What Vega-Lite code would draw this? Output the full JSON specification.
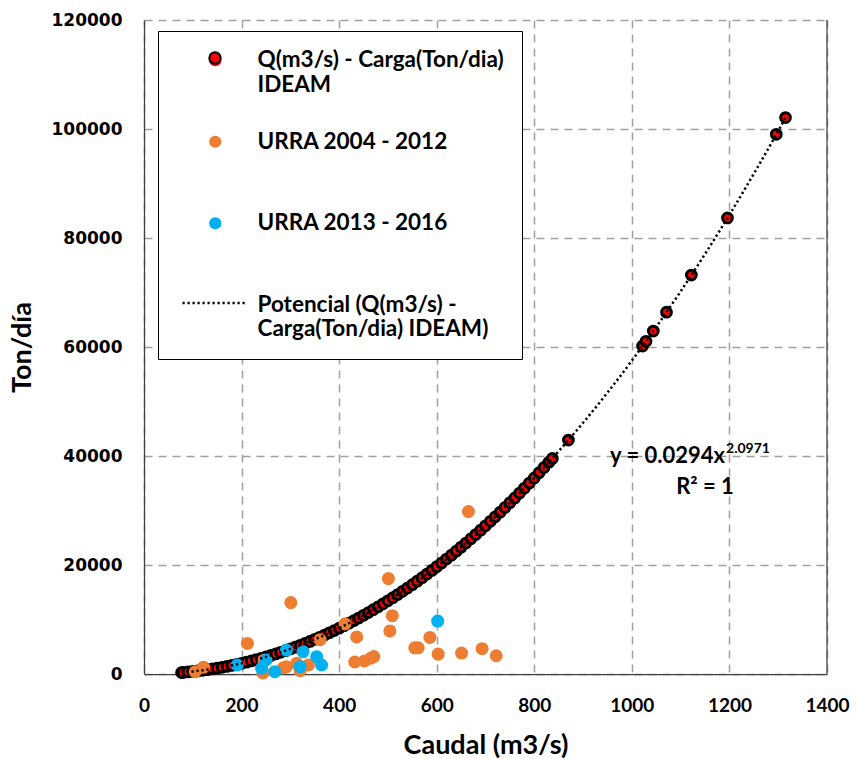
{
  "$schema": "https://vega.github.io/schema/vega-lite/v6.json",
  "width": 683,
  "height": 654,
  "autosize": {"type": "none"},
  "padding": {"left": 144, "top": 20, "right": 29, "bottom": 85},
  "background": "white",
  "config": {
    "view": {"stroke": null},
    "axis": {
      "grid": true, "gridColor": "#A0A0A0", "gridDash": [8, 6], "gridWidth": 1.5,
      "ticks": false, "tickSize": 0,
      "domainColor": "#404040", "domainWidth": 1.25,
      "labelColor": "#000000", "labelFontWeight": "bold",
      "labelFlush": false, "labelOverlap": false,
      "titleColor": "#000000", "titleFont": "Lato", "titleFontWeight": "bold", "titleFontSize": 27
    },
    "legend": {
      "labelFont": "Lato", "labelFontWeight": "bold", "labelColor": "#000000",
      "labelBaseline": "middle", "symbolOpacity": 1, "labelLimit": 500
    }
  },
  "datasets": {
    "ideam": [
      {"q": 77, "t": 266, "series": "IDEAM"}, {"q": 80, "t": 288, "series": "IDEAM"}, {"q": 90, "t": 368, "series": "IDEAM"},
      {"q": 100, "t": 460, "series": "IDEAM"}, {"q": 110, "t": 561, "series": "IDEAM"}, {"q": 120, "t": 674, "series": "IDEAM"},
      {"q": 130, "t": 797, "series": "IDEAM"}, {"q": 140, "t": 931, "series": "IDEAM"}, {"q": 150, "t": 1076, "series": "IDEAM"},
      {"q": 160, "t": 1232, "series": "IDEAM"}, {"q": 170, "t": 1399, "series": "IDEAM"}, {"q": 180, "t": 1577, "series": "IDEAM"},
      {"q": 190, "t": 1766, "series": "IDEAM"}, {"q": 200, "t": 1966, "series": "IDEAM"}, {"q": 210, "t": 2178, "series": "IDEAM"},
      {"q": 220, "t": 2400, "series": "IDEAM"}, {"q": 230, "t": 2634, "series": "IDEAM"}, {"q": 240, "t": 2881, "series": "IDEAM"},
      {"q": 250, "t": 3139, "series": "IDEAM"}, {"q": 260, "t": 3408, "series": "IDEAM"}, {"q": 270, "t": 3689, "series": "IDEAM"},
      {"q": 280, "t": 3981, "series": "IDEAM"}, {"q": 290, "t": 4285, "series": "IDEAM"}, {"q": 300, "t": 4601, "series": "IDEAM"},
      {"q": 310, "t": 4929, "series": "IDEAM"}, {"q": 320, "t": 5267, "series": "IDEAM"}, {"q": 330, "t": 5618, "series": "IDEAM"},
      {"q": 340, "t": 5981, "series": "IDEAM"}, {"q": 350, "t": 6357, "series": "IDEAM"}, {"q": 360, "t": 6743, "series": "IDEAM"},
      {"q": 370, "t": 7142, "series": "IDEAM"}, {"q": 380, "t": 7553, "series": "IDEAM"}, {"q": 390, "t": 7976, "series": "IDEAM"},
      {"q": 400, "t": 8411, "series": "IDEAM"}, {"q": 410, "t": 8858, "series": "IDEAM"}, {"q": 420, "t": 9317, "series": "IDEAM"},
      {"q": 430, "t": 9788, "series": "IDEAM"}, {"q": 440, "t": 10271, "series": "IDEAM"}, {"q": 450, "t": 10766, "series": "IDEAM"},
      {"q": 460, "t": 11274, "series": "IDEAM"}, {"q": 470, "t": 11794, "series": "IDEAM"}, {"q": 480, "t": 12327, "series": "IDEAM"},
      {"q": 490, "t": 12872, "series": "IDEAM"}, {"q": 500, "t": 13427, "series": "IDEAM"}, {"q": 510, "t": 13996, "series": "IDEAM"},
      {"q": 520, "t": 14579, "series": "IDEAM"}, {"q": 530, "t": 15173, "series": "IDEAM"}, {"q": 540, "t": 15780, "series": "IDEAM"},
      {"q": 550, "t": 16396, "series": "IDEAM"}, {"q": 560, "t": 17029, "series": "IDEAM"}, {"q": 570, "t": 17673, "series": "IDEAM"},
      {"q": 580, "t": 18330, "series": "IDEAM"}, {"q": 590, "t": 18999, "series": "IDEAM"}, {"q": 600, "t": 19681, "series": "IDEAM"},
      {"q": 610, "t": 20375, "series": "IDEAM"}, {"q": 620, "t": 21084, "series": "IDEAM"}, {"q": 630, "t": 21803, "series": "IDEAM"},
      {"q": 640, "t": 22538, "series": "IDEAM"}, {"q": 650, "t": 23280, "series": "IDEAM"}, {"q": 660, "t": 24036, "series": "IDEAM"},
      {"q": 670, "t": 24806, "series": "IDEAM"}, {"q": 680, "t": 25592, "series": "IDEAM"}, {"q": 690, "t": 26388, "series": "IDEAM"},
      {"q": 700, "t": 27194, "series": "IDEAM"}, {"q": 710, "t": 28015, "series": "IDEAM"}, {"q": 720, "t": 28852, "series": "IDEAM"},
      {"q": 730, "t": 29699, "series": "IDEAM"}, {"q": 740, "t": 30557, "series": "IDEAM"}, {"q": 750, "t": 31430, "series": "IDEAM"},
      {"q": 760, "t": 32310, "series": "IDEAM"}, {"q": 770, "t": 33208, "series": "IDEAM"}, {"q": 780, "t": 34120, "series": "IDEAM"},
      {"q": 790, "t": 35044, "series": "IDEAM"}, {"q": 800, "t": 35981, "series": "IDEAM"}, {"q": 810, "t": 36931, "series": "IDEAM"},
      {"q": 820, "t": 37894, "series": "IDEAM"}, {"q": 830, "t": 38870, "series": "IDEAM"}, {"q": 837, "t": 39560, "series": "IDEAM"},
      {"q": 870, "t": 42930, "series": "IDEAM"}, {"q": 1022, "t": 60180, "series": "IDEAM"}, {"q": 1029, "t": 61050, "series": "IDEAM"},
      {"q": 1044, "t": 62930, "series": "IDEAM"}, {"q": 1071, "t": 66390, "series": "IDEAM"}, {"q": 1122, "t": 73200, "series": "IDEAM"},
      {"q": 1196, "t": 83690, "series": "IDEAM"}, {"q": 1296, "t": 99030, "series": "IDEAM"}, {"q": 1315, "t": 102100, "series": "IDEAM"}
    ],
    "urra1": [
      {"q": 105, "t": 420, "series": "URRA 2004 - 2012"}, {"q": 122, "t": 1250, "series": "URRA 2004 - 2012"},
      {"q": 212, "t": 5600, "series": "URRA 2004 - 2012"}, {"q": 244, "t": 200, "series": "URRA 2004 - 2012"},
      {"q": 246, "t": 2500, "series": "URRA 2004 - 2012"}, {"q": 285, "t": 1100, "series": "URRA 2004 - 2012"},
      {"q": 292, "t": 1340, "series": "URRA 2004 - 2012"}, {"q": 301, "t": 13100, "series": "URRA 2004 - 2012"},
      {"q": 313, "t": 1960, "series": "URRA 2004 - 2012"}, {"q": 320, "t": 600, "series": "URRA 2004 - 2012"},
      {"q": 337, "t": 1650, "series": "URRA 2004 - 2012"}, {"q": 361, "t": 6300, "series": "URRA 2004 - 2012"},
      {"q": 412, "t": 9200, "series": "URRA 2004 - 2012"}, {"q": 432, "t": 2200, "series": "URRA 2004 - 2012"},
      {"q": 436, "t": 6800, "series": "URRA 2004 - 2012"}, {"q": 452, "t": 2400, "series": "URRA 2004 - 2012"},
      {"q": 465, "t": 2900, "series": "URRA 2004 - 2012"}, {"q": 471, "t": 3200, "series": "URRA 2004 - 2012"},
      {"q": 501, "t": 17500, "series": "URRA 2004 - 2012"}, {"q": 504, "t": 7900, "series": "URRA 2004 - 2012"},
      {"q": 509, "t": 10700, "series": "URRA 2004 - 2012"}, {"q": 555, "t": 4800, "series": "URRA 2004 - 2012"},
      {"q": 562, "t": 4800, "series": "URRA 2004 - 2012"}, {"q": 586, "t": 6700, "series": "URRA 2004 - 2012"},
      {"q": 603, "t": 3650, "series": "URRA 2004 - 2012"}, {"q": 651, "t": 3850, "series": "URRA 2004 - 2012"},
      {"q": 665, "t": 29800, "series": "URRA 2004 - 2012"}, {"q": 693, "t": 4650, "series": "URRA 2004 - 2012"},
      {"q": 722, "t": 3350, "series": "URRA 2004 - 2012"}
    ],
    "urra2": [
      {"q": 191, "t": 1650, "series": "URRA 2013 - 2016"}, {"q": 241, "t": 1040, "series": "URRA 2013 - 2016"},
      {"q": 250, "t": 2570, "series": "URRA 2013 - 2016"}, {"q": 268, "t": 420, "series": "URRA 2013 - 2016"},
      {"q": 292, "t": 4400, "series": "URRA 2013 - 2016"}, {"q": 320, "t": 1340, "series": "URRA 2013 - 2016"},
      {"q": 326, "t": 4090, "series": "URRA 2013 - 2016"}, {"q": 354, "t": 3170, "series": "URRA 2013 - 2016"},
      {"q": 364, "t": 1650, "series": "URRA 2013 - 2016"}, {"q": 602, "t": 9720, "series": "URRA 2013 - 2016"}
    ],
    "trend": [
      {"q": 77, "t": 266, "series": "Potencial"}, {"q": 100, "t": 460, "series": "Potencial"},
      {"q": 150, "t": 1076, "series": "Potencial"}, {"q": 200, "t": 1966, "series": "Potencial"},
      {"q": 250, "t": 3139, "series": "Potencial"}, {"q": 300, "t": 4601, "series": "Potencial"},
      {"q": 350, "t": 6357, "series": "Potencial"}, {"q": 400, "t": 8411, "series": "Potencial"},
      {"q": 450, "t": 10766, "series": "Potencial"}, {"q": 500, "t": 13427, "series": "Potencial"},
      {"q": 550, "t": 16396, "series": "Potencial"}, {"q": 600, "t": 19681, "series": "Potencial"},
      {"q": 650, "t": 23280, "series": "Potencial"}, {"q": 700, "t": 27194, "series": "Potencial"},
      {"q": 750, "t": 31430, "series": "Potencial"}, {"q": 800, "t": 35981, "series": "Potencial"},
      {"q": 850, "t": 40880, "series": "Potencial"}, {"q": 900, "t": 46090, "series": "Potencial"},
      {"q": 950, "t": 51630, "series": "Potencial"}, {"q": 1000, "t": 57490, "series": "Potencial"},
      {"q": 1050, "t": 63680, "series": "Potencial"}, {"q": 1100, "t": 70210, "series": "Potencial"},
      {"q": 1150, "t": 77060, "series": "Potencial"}, {"q": 1200, "t": 84260, "series": "Potencial"},
      {"q": 1250, "t": 91790, "series": "Potencial"}, {"q": 1300, "t": 99650, "series": "Potencial"},
      {"q": 1315, "t": 102100, "series": "Potencial"}
    ]
  },
  "layer": [
    {
      "data": {"name": "ideam"},
      "mark": {"type": "point", "filled": true, "strokeWidth": 3, "size": 95, "opacity": 1},
      "encoding": {
        "x": {
          "field": "q", "type": "quantitative",
          "scale": {"domain": [0, 1400], "nice": false, "zero": true},
          "axis": {
            "title": "Caudal (m3/s)", "values": [0, 200, 400, 600, 800, 1000, 1200, 1400], "format": "d",
            "labelFont": "Lato", "labelFontSize": 19, "labelPadding": 22,
            "titleY": 71, "titleBaseline": "middle"
          }
        },
        "y": {
          "field": "t", "type": "quantitative",
          "scale": {"domain": [0, 120000], "nice": false},
          "axis": {
            "title": "Ton/día", "values": [0, 20000, 40000, 60000, 80000, 100000, 120000], "format": "d",
            "labelFont": "DejaVu Sans", "labelFontSize": 17, "labelPadding": 22,
            "titleX": -122, "titleY": 327, "titleBaseline": "middle", "titleAlign": "center"
          }
        },
        "color": {
          "field": "series", "type": "nominal",
          "scale": {
            "domain": ["IDEAM", "URRA 2004 - 2012", "URRA 2013 - 2016", "Potencial"],
            "range": ["#FF0000", "#ED7D31", "#00B0F0", "transparent"]
          },
          "legend": {
            "title": null, "orient": "none", "legendX": 14, "legendY": 11,
            "padding": 18, "strokeColor": "#000000", "fillColor": "#ffffff",
            "labelFontSize": 22.5, "labelOffset": 31, "symbolOffset": 28, "rowPadding": 33.5,
            "symbolSize": 150, "symbolStrokeColor": "transparent", "symbolStrokeWidth": 0,
            "labelExpr": "datum.value == 'IDEAM' ? ['Q(m3/s) - Carga(Ton/dia)', 'IDEAM'] : datum.value == 'Potencial' ? ['Potencial (Q(m3/s) -', 'Carga(Ton/dia) IDEAM)'] : [datum.label, '']"
          }
        },
        "stroke": {
          "field": "series", "type": "nominal",
          "scale": {"domain": ["IDEAM"], "range": ["#000000"]},
          "legend": {
            "title": null, "orient": "none", "legendX": 64, "legendY": 31,
            "padding": 0, "strokeColor": "transparent", "fillColor": "transparent",
            "symbolType": "circle", "symbolSize": 130, "symbolStrokeWidth": 2, "symbolFillColor": "#FF0000",
            "labelExpr": "' '", "labelFontSize": 14, "labelOffset": 0, "symbolOffset": 0
          }
        }
      }
    },
    {
      "data": {"name": "urra1"},
      "mark": {"type": "point", "filled": true, "size": 170, "opacity": 1},
      "encoding": {
        "x": {"field": "q", "type": "quantitative"},
        "y": {"field": "t", "type": "quantitative"},
        "color": {"field": "series", "type": "nominal"}
      }
    },
    {
      "data": {"name": "urra2"},
      "mark": {"type": "point", "filled": true, "size": 170, "opacity": 1},
      "encoding": {
        "x": {"field": "q", "type": "quantitative"},
        "y": {"field": "t", "type": "quantitative"},
        "color": {"field": "series", "type": "nominal"}
      }
    },
    {
      "data": {"name": "trend"},
      "mark": {"type": "line", "interpolate": "monotone", "stroke": "#000000", "strokeWidth": 2.5},
      "encoding": {
        "x": {"field": "q", "type": "quantitative"},
        "y": {"field": "t", "type": "quantitative"},
        "strokeDash": {
          "field": "series", "type": "nominal",
          "scale": {"domain": ["Potencial"], "range": [[2.2, 2.8]]},
          "legend": {
            "title": null, "orient": "none", "legendX": 37, "legendY": 249,
            "padding": 0, "strokeColor": "transparent", "fillColor": "transparent",
            "symbolType": "stroke", "symbolSize": 4225, "symbolStrokeWidth": 2.5, "symbolStrokeColor": "#000000",
            "labelExpr": "' '", "labelFontSize": 68, "labelOffset": 0, "symbolOffset": 0
          }
        }
      }
    },
    {
      "data": {"values": [{"q": 1400}]},
      "mark": {"type": "rule", "color": "#404040", "strokeWidth": 1.25},
      "encoding": {"x": {"field": "q", "type": "quantitative"}}
    },
    {
      "data": {"values": [{"q": 1191, "t": 40000, "label": "y = 0.0294x"}]},
      "mark": {"type": "text", "font": "Lato", "fontWeight": "bold", "fontSize": 22, "align": "right", "baseline": "middle", "color": "#000000"},
      "encoding": {
        "x": {"field": "q", "type": "quantitative"},
        "y": {"field": "t", "type": "quantitative"},
        "text": {"field": "label"}
      }
    },
    {
      "data": {"values": [{"q": 1193, "t": 41300, "label": "2.0971"}]},
      "mark": {"type": "text", "font": "Lato", "fontWeight": "bold", "fontSize": 14, "align": "left", "baseline": "middle", "color": "#000000"},
      "encoding": {
        "x": {"field": "q", "type": "quantitative"},
        "y": {"field": "t", "type": "quantitative"},
        "text": {"field": "label"}
      }
    },
    {
      "data": {"values": [{"q": 1150, "t": 34300, "label": "R² = 1"}]},
      "mark": {"type": "text", "font": "Lato", "fontWeight": "bold", "fontSize": 22, "align": "center", "baseline": "middle", "color": "#000000"},
      "encoding": {
        "x": {"field": "q", "type": "quantitative"},
        "y": {"field": "t", "type": "quantitative"},
        "text": {"field": "label"}
      }
    }
  ]
}
